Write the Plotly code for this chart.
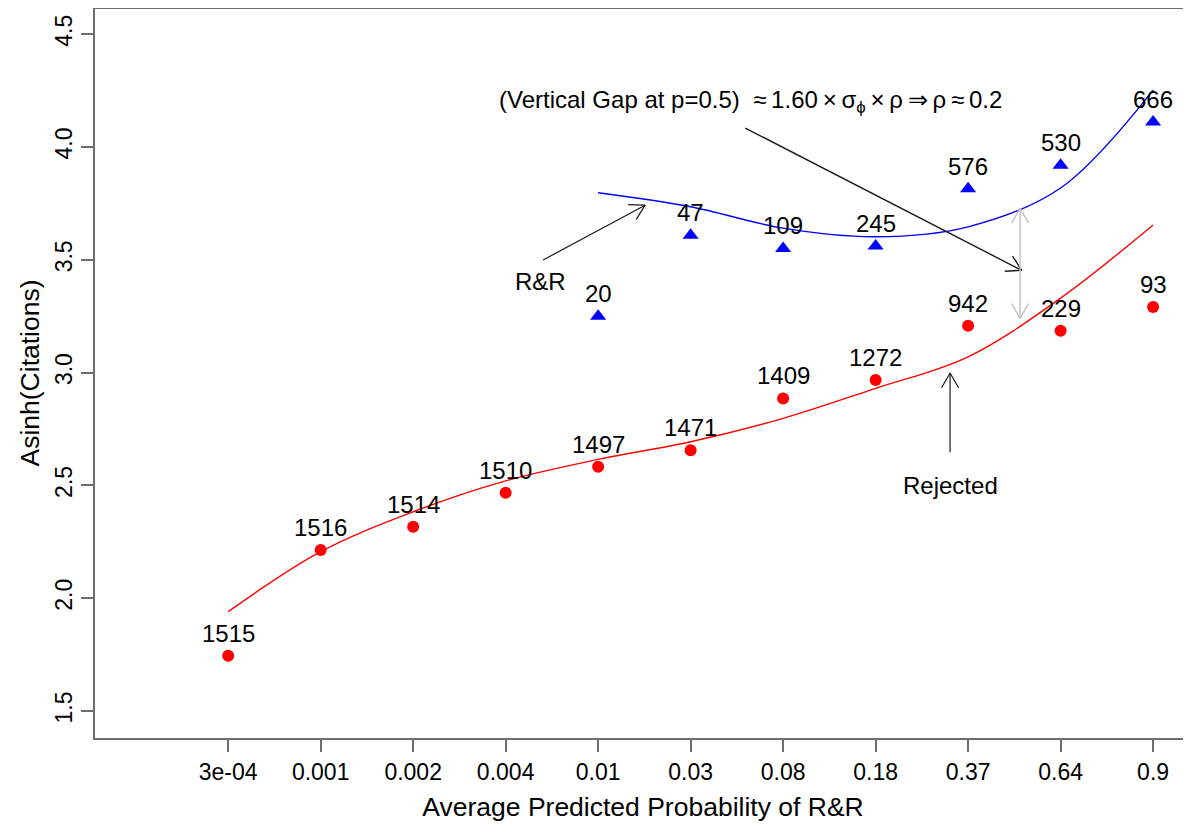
import math
import plotly.graph_objects as go

# ---------------- data ----------------
prob_labels = ["3e-04", "0.001", "0.002", "0.004", "0.01", "0.03",
               "0.08", "0.18", "0.37", "0.64", "0.9"]
positions = list(range(1, 12))

# Rejected papers (red circles)
rej_values = [1.745, 2.213, 2.316, 2.467, 2.582, 2.656, 2.885, 2.967, 3.207, 3.185, 3.291]
rej_counts = [1515, 1516, 1514, 1510, 1497, 1471, 1409, 1272, 942, 229, 93]

# R&R papers (blue triangles), bins 5..11
rr_positions = [5, 6, 7, 8, 9, 10, 11]
rr_values = [3.250, 3.609, 3.550, 3.561, 3.815, 3.919, 4.111]
rr_counts = [20, 47, 109, 245, 576, 530, 666]

# fitted curves
rej_fit_x = [1, 2, 3, 4, 5, 6, 7, 8, 9, 10, 11]
rej_fit_y = [1.940, 2.206, 2.383, 2.520, 2.615, 2.693, 2.797, 2.930, 3.070, 3.330, 3.654]
rr_fit_x = [5, 6, 7, 8, 9, 10, 11]
rr_fit_y = [3.797, 3.735, 3.640, 3.602, 3.646, 3.818, 4.252]

# ---------------- layout geometry ----------------
# the page body adds an 8px offset, so the figure is sized to the remaining window
FIG_W, FIG_H = 1183, 819
M_L, M_R, M_T, M_B = 87, 0, 0, 89
X_RANGE = [-0.44, 11.41]
Y_RANGE = [1.38, 4.616]
PW = FIG_W - M_L - M_R
PH = FIG_H - M_T - M_B

FONT = "Liberation Sans, Arial, Helvetica, sans-serif"
AXIS_COL = "#6e6e6e"


def to_px(x, y):
    px = (x - X_RANGE[0]) / (X_RANGE[1] - X_RANGE[0]) * PW
    py = (Y_RANGE[1] - y) / (Y_RANGE[1] - Y_RANGE[0]) * PH
    return px, py


def to_data(px, py):
    x = X_RANGE[0] + px / PW * (X_RANGE[1] - X_RANGE[0])
    y = Y_RANGE[1] - py / PH * (Y_RANGE[1] - Y_RANGE[0])
    return x, y


def arrow(xs, ys, xe, ye, color, width, both=False, arm=17, ang=30):
    shapes = [dict(type="line", xref="x", yref="y", x0=xs, y0=ys, x1=xe, y1=ye,
                   line=dict(color=color, width=width))]
    ends = [((xe, ye), (xs, ys))]
    if both:
        ends.append(((xs, ys), (xe, ye)))
    for (tx, ty), (ox, oy) in ends:
        tpx, tpy = to_px(tx, ty)
        opx, opy = to_px(ox, oy)
        dx, dy = opx - tpx, opy - tpy
        n = math.hypot(dx, dy)
        dx, dy = dx / n, dy / n
        for s in (-1, 1):
            a = math.radians(ang) * s
            rx = dx * math.cos(a) - dy * math.sin(a)
            ry = dx * math.sin(a) + dy * math.cos(a)
            hx, hy = to_data(tpx + rx * arm, tpy + ry * arm)
            shapes.append(dict(type="line", xref="x", yref="y", x0=tx, y0=ty,
                               x1=hx, y1=hy, line=dict(color=color, width=width)))
    return shapes


fig = go.Figure()

# fitted curves
fig.add_trace(go.Scatter(x=rej_fit_x, y=rej_fit_y, mode="lines",
                         line=dict(color="#ff0000", width=1.4, shape="spline", smoothing=1.0),
                         hoverinfo="skip", showlegend=False))
fig.add_trace(go.Scatter(x=rr_fit_x, y=rr_fit_y, mode="lines",
                         line=dict(color="#0000ff", width=1.4, shape="spline", smoothing=1.0),
                         hoverinfo="skip", showlegend=False))

# points
fig.add_trace(go.Scatter(x=positions, y=rej_values, mode="markers",
                         marker=dict(symbol="circle", size=12, color="#ff0000"),
                         name="Rejected", showlegend=False))
fig.add_trace(go.Scatter(x=rr_positions, y=rr_values, mode="markers",
                         marker=dict(symbol="triangle-up", size=14, color="#0000ff"),
                         name="R&R", showlegend=False))

LABEL_SIZE = 24
annotations = []
for x, y, c in zip(positions, rej_values, rej_counts):
    annotations.append(dict(x=x, y=y, text=str(c), showarrow=False, xanchor="center",
                            yanchor="bottom", yshift=7,
                            font=dict(family=FONT, size=LABEL_SIZE, color="black")))
for x, y, c in zip(rr_positions, rr_values, rr_counts):
    annotations.append(dict(x=x, y=y, text=str(c), showarrow=False, xanchor="center",
                            yanchor="bottom", yshift=7,
                            font=dict(family=FONT, size=LABEL_SIZE, color="black")))

# text annotations
T = "\u2009"  # thin space
formula = ("(Vertical Gap at p=0.5)  \u2248" + T + "1.60" + T + "\u00d7" + T + "\u03c3<sub>\u03d5</sub>"
           + T + "\u00d7" + T + "\u03c1" + T + "\u21d2" + T + "\u03c1" + T + "\u2248" + T + "0.2")
annotations.append(dict(x=3.905, y=4.203, xanchor="left", yanchor="middle", showarrow=False,
                        text=formula,
                        font=dict(family=FONT, size=LABEL_SIZE, color="black")))
annotations.append(dict(x=4.373, y=3.405, xanchor="center", yanchor="middle", showarrow=False,
                        text="R&amp;R", font=dict(family=FONT, size=LABEL_SIZE, color="black")))
annotations.append(dict(x=8.805, y=2.501, xanchor="center", yanchor="middle", showarrow=False,
                        text="Rejected", font=dict(family=FONT, size=LABEL_SIZE, color="black")))

shapes = []
shapes += arrow(6.59, 4.084, 9.58, 3.453, "#1a1a1a", 1.4)
shapes += arrow(4.405, 3.499, 5.508, 3.742, "#1a1a1a", 1.2)
shapes += arrow(8.805, 2.647, 8.805, 2.998, "#1a1a1a", 1.2)
shapes += arrow(9.562, 3.240, 9.562, 3.728, "#c4c4c4", 1.5, both=True)
# top border of the plot box
shapes.append(dict(type="line", xref="paper", yref="paper", x0=0, x1=1, y0=1, y1=1,
                   line=dict(color=AXIS_COL, width=2)))

fig.update_layout(
    width=FIG_W, height=FIG_H,
    margin=dict(l=M_L, r=M_R, t=M_T, b=M_B, autoexpand=False),
    paper_bgcolor="white", plot_bgcolor="white",
    font=dict(family=FONT, color="black"),
    annotations=annotations, shapes=shapes,
    xaxis=dict(range=X_RANGE, tickvals=positions, ticktext=prob_labels, automargin=False,
               showgrid=False, zeroline=False, showline=True, linecolor=AXIS_COL, linewidth=2,
               ticks="outside", ticklen=12, tickwidth=1.5, tickcolor=AXIS_COL,
               tickfont=dict(family=FONT, size=23, color="black"),
               title=dict(text="Average Predicted Probability of R&amp;R",
                          font=dict(family=FONT, size=26.5, color="black"), standoff=14)),
    yaxis=dict(range=Y_RANGE, tickvals=[1.5, 2.0, 2.5, 3.0, 3.5, 4.0, 4.5],
               ticktext=["1.5", "2.0", "2.5", "3.0", "3.5", "4.0", "4.5"],
               tickangle=-90, automargin=False,
               showgrid=False, zeroline=False, showline=True, linecolor=AXIS_COL, linewidth=2,
               ticks="outside", ticklen=12, tickwidth=1.5, tickcolor=AXIS_COL,
               tickfont=dict(family=FONT, size=23, color="black"),
               title=dict(text="Asinh(Citations)",
                          font=dict(family=FONT, size=26.5, color="black"), standoff=4)),
)

fig.write_html("out.html")
